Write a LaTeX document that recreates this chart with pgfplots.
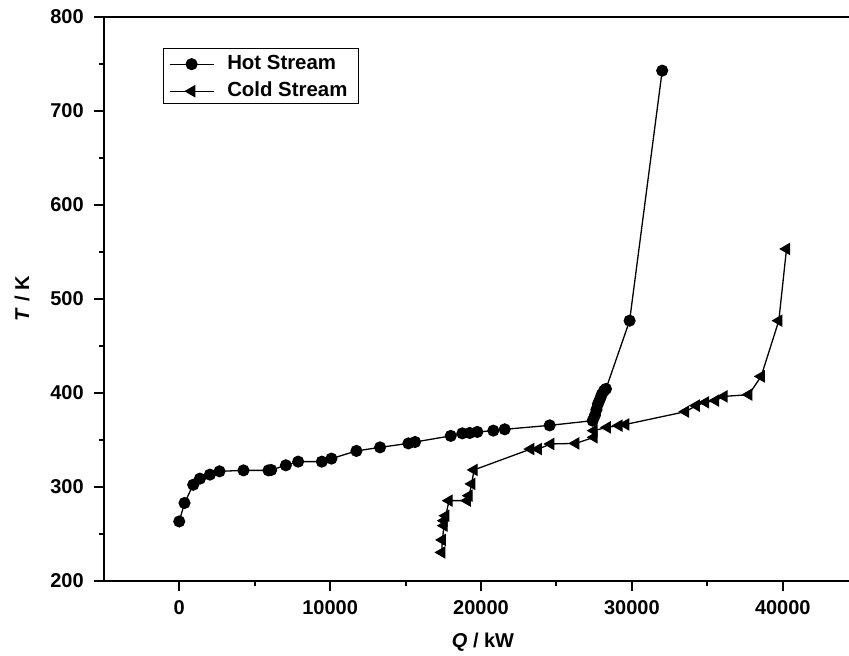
\documentclass[border=0pt]{standalone}
\usepackage{fontspec}
\setmainfont{Liberation Sans}
\usepackage{pgfplots}
\pgfplotsset{compat=1.18}

\begin{document}
\begin{tikzpicture}
\begin{axis}[
  scale only axis, width=373.5pt, height=282pt,
  xmin=-5000, xmax=44500, ymin=200, ymax=800,
  xtick={0,10000,20000,30000,40000},
  ytick={200,300,400,500,600,700,800},
  minor x tick num=1, minor y tick num=1,
  tick align=outside, tick pos=left,
  major tick length=5pt, minor tick length=2.5pt,
  axis line style={line width=1.1pt},
  every tick/.style={line width=1pt, black},
  scaled x ticks=false,
  /pgf/number format/1000 sep={},
  /pgf/number format/assume math mode=true,
  tick label style={font=\bfseries\fontsize{10}{12}\selectfont},
  xticklabel style={yshift=-1.5pt},
  yticklabel style={xshift=-1.5pt},
  label style={font=\bfseries\fontsize{10}{12}\selectfont},
  xlabel={\textit{Q} / kW}, ylabel={\textit{T} / K},
  every axis x label/.append style={at={(axis description cs:0.5077,-0.11)}, anchor=center},
  every axis y label/.append style={at={(axis description cs:-0.1094,0.5)}, anchor=center},
  legend style={at={(0.0787,0.9445)}, anchor=north west, draw=black,
    font=\bfseries\fontsize{10.2}{12}\selectfont,
    inner xsep=3pt, inner ysep=0.3pt, row sep=0pt,
    nodes={inner xsep=2.5pt, inner ysep=1.5pt, text height=9pt}},
  legend cell align=left,
  legend image code/.code={\draw[mark repeat=2,mark phase=2]
    plot coordinates {(0pt,-0.85pt)(11pt,-0.85pt)(22pt,-0.85pt)};
    \path (26pt,-0.85pt);},
]
% hot composite curve
\addplot[black, line width=0.65pt, mark=*, mark size=2.7pt] coordinates {
  (0,263)(350,282.6)(927,302)(1371,308.5)(2033,312.8)(2669,316.3)
  (4258,317.3)(5914,317.3)(6093,317.7)(7066,322.7)(7881,326.6)
  (9450,326.6)(10086,329.8)(11742,338)(13311,341.8)(15185,346)
  (15629,347.5)(17993,354)(18762,356.7)(19252,357.1)(19755,358.2)
  (20815,359.6)(21570,361)(24550,365.2)(27400,370.2)(27550,376)
  (27650,382)(27750,388)(27880,393)(28000,398)(28150,402)(28280,404)
  (29848,476.6)(32007,742.6)
};
\addlegendentry{Hot Stream}
% cold composite curve
\addplot[black, line width=0.65pt, mark=triangle*, mark size=3pt,
  mark options={rotate=90}] coordinates {
  (17397,230)(17437,243.3)(17550,258.5)(17550,263.8)(17662,269)
  (17881,285.1)(19093,285.1)(19205,290.4)(19384,302.9)(19536,317.8)
  (23291,340)(23795,340)(24616,345.4)(26272,346)(27483,352.5)
  (27483,359.6)(28364,363.1)(29139,364.9)(29583,366.2)(33556,379.8)
  (34258,386.2)(34881,389.7)(35543,391.5)(36093,396)(37748,397.9)
  (38563,417.3)(39735,476.6)(40245,552.9)
};
\addlegendentry{Cold Stream}
\end{axis}
\pgfresetboundingbox
\useasboundingbox ([shift={(-51.9pt,-37.65pt)}]current axis.south west)
  rectangle ([shift={(-0.85pt,8.35pt)}]current axis.north east);
\end{tikzpicture}
\end{document}
